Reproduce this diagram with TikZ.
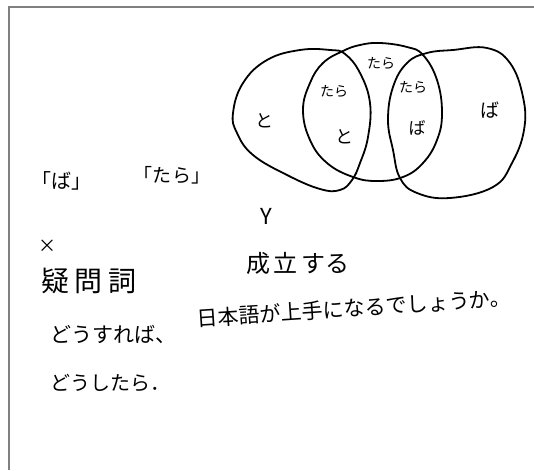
\documentclass[tikz,border=0pt]{standalone}
\usepackage{fontspec}
\newfontfamily\jp{Noto Sans CJK JP}
\tikzset{
  venn/.style={line width=1.8pt, black, line join=round},
  frame/.style={line width=1.5pt, gray},
  lbl/.style={inner sep=0pt, font=\jp\fontsize{#1}{#1}\selectfont},
  lbl/.default=16
}
\begin{document}
\begin{tikzpicture}[x=1pt,y=-1pt]
\useasboundingbox (0,0) rectangle (534,470);
\draw[frame] (9,470) -- (9,7) -- (534,7);
% left circle
\draw[venn] plot[smooth cycle, tension=0.7] coordinates {
 (233,113) (243,83) (267,60) (300,50) (330,50) (345,54) (360,73) (370,103)
 (368,137) (360,163) (352,180) (340,190) (320,189) (287,175) (253,155) (237,133)};
% middle circle
\draw[venn] plot[smooth cycle, tension=0.7] coordinates {
 (380,43) (407,47) (423,55) (437,80) (442,113) (437,140) (423,163) (403,177)
 (377,181) (353,177) (327,163) (310,140) (303,110) (310,83) (323,63) (343,51) (360,45)};
% right circle
\draw[venn] plot[smooth cycle, tension=0.7] coordinates {
 (427,53) (453,50) (487,48) (510,63) (523,97) (524,130) (512,163) (493,187)
 (450,198) (417,193) (400,178) (393,150) (388,120) (393,87) (407,63)};
% venn labels
\node[lbl=18] (to1) at (264,121) {と};
\node[lbl=14] (tara1) at (334,91) {たら};
\node[lbl=18] (to2) at (344,137) {と};
\node[lbl=14] (tara2) at (381,63) {たら};
\node[lbl=14] (tara3) at (413,87) {たら};
\node[lbl=17] (ba1) at (417,128) {ば};
\node[lbl=19] (ba2) at (490,110) {ば};
% left labels
\node[lbl=20] (kba) at (61,181) {「ば」};
\node[lbl=19] (ktara) at (172,175) {「た\hspace{2pt}ら」};
\node[lbl=22] (Y) at (266,216) {Y};
\node[lbl=18] (X) at (47,246) {×};
\node[lbl=24] (seiritsu) at (298,263) {成\hspace{4pt}立\hspace{4pt}する};
\node[lbl=28] (gimonshi) at (89,281) {疑\hspace{6pt}問\hspace{6pt}詞};
\node[lbl=21] (dousureba) at (113,334) {どうすれば、};
\node[lbl=21, rotate=3.8] (nihongo) at (354,308) {日本語が上手になるでしょうか。};
\node[lbl=20] (doushitara) at (110,383) {どうしたら．};
\end{tikzpicture}
\end{document}
